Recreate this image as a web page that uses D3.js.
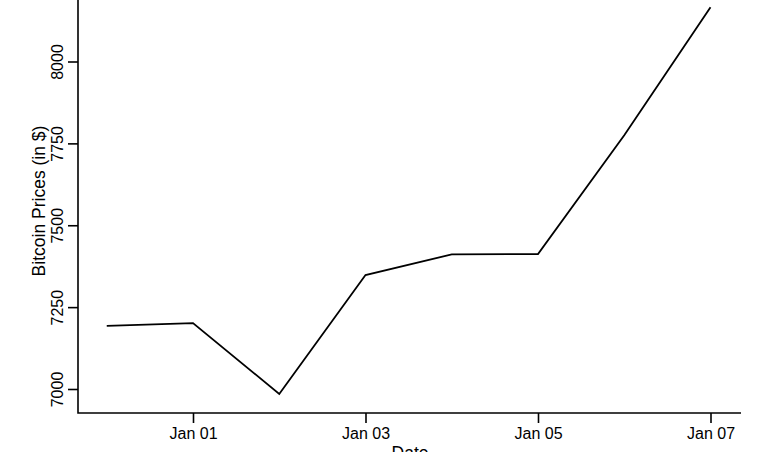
<!DOCTYPE html>
<html>
<head>
<meta charset="utf-8">
<script src="https://cdn.jsdelivr.net/npm/d3@7"></script>
<style>
  html, body { margin: 0; padding: 0; background: #fff; }
  svg { display: block; }
  text { font-family: "Liberation Sans", Arial, Helvetica, sans-serif; fill: #000; }
</style>
</head>
<body>
<svg id="chart" width="768" height="452"></svg>
<script>
const dates = ["2019-12-31","2020-01-01","2020-01-02","2020-01-03","2020-01-04","2020-01-05","2020-01-06","2020-01-07"];
const prices = [7193, 7201, 6985, 7348, 7411, 7412, 7775, 8166];
const yTicks = [7000, 7250, 7500, 7750, 8000];
const xTickDates = ["2020-01-01","2020-01-03","2020-01-05","2020-01-07"];
const xTickLabels = ["Jan 01","Jan 03","Jan 05","Jan 07"];
const xTitle = "Date";
const yTitle = "Bitcoin Prices (in $)";

const parse = d3.utcParse("%Y-%m-%d");
const data = dates.map((d, i) => ({ date: parse(d), price: prices[i] }));

const svg = d3.select("#chart");
const mLeft = 78, mBottom = 413, mRight = 741, mTop = 0;

const x = d3.scaleUtc()
  .domain([parse("2020-01-01"), parse("2020-01-07")])
  .range([193, 710.5]);
const y = d3.scaleLinear()
  .domain([7000, 8000])
  .range([389, 61.5]);

// L-shaped box
svg.append("path")
  .attr("d", `M${mLeft},${mTop}V${mBottom}H${mRight}`)
  .attr("fill", "none").attr("stroke", "#000").attr("stroke-width", 1.6);

// y axis
const yAxis = svg.append("g")
  .attr("transform", `translate(${mLeft},0)`)
  .call(d3.axisLeft(y).tickValues(yTicks).tickSize(10).tickSizeOuter(0).tickFormat(d3.format("d")));
yAxis.select(".domain").remove();
yAxis.selectAll("line").attr("stroke", "#000").attr("stroke-width", 1.6);
yAxis.selectAll("text")
  .attr("x", null).attr("dy", null)
  .attr("text-anchor", "middle")
  .attr("transform", "translate(-15,0) rotate(-90)")
  .style("font-size", "16px");

// x axis
const xAxis = svg.append("g")
  .attr("transform", `translate(0,${mBottom})`)
  .call(d3.axisBottom(x).tickValues(xTickDates.map(parse)).tickSize(10).tickSizeOuter(0)
    .tickFormat((d, i) => xTickLabels[i]));
xAxis.select(".domain").remove();
xAxis.selectAll("line").attr("stroke", "#000").attr("stroke-width", 1.6);
xAxis.selectAll("text")
  .attr("y", 26).attr("dy", null)
  .style("font-size", "16px");

// axis titles
svg.append("text")
  .attr("text-anchor", "middle")
  .attr("transform", "translate(45,201) rotate(-90)")
  .style("font-size", "17.5px")
  .text(yTitle);
svg.append("text")
  .attr("text-anchor", "middle")
  .attr("x", 410).attr("y", 459)
  .style("font-size", "17.5px")
  .text(xTitle);

// line
svg.append("path")
  .datum(data)
  .attr("fill", "none")
  .attr("stroke", "#000")
  .attr("stroke-width", 1.8)
  .attr("stroke-linejoin", "miter")
  .attr("d", d3.line().x(d => x(d.date)).y(d => y(d.price)));
</script>
</body>
</html>
